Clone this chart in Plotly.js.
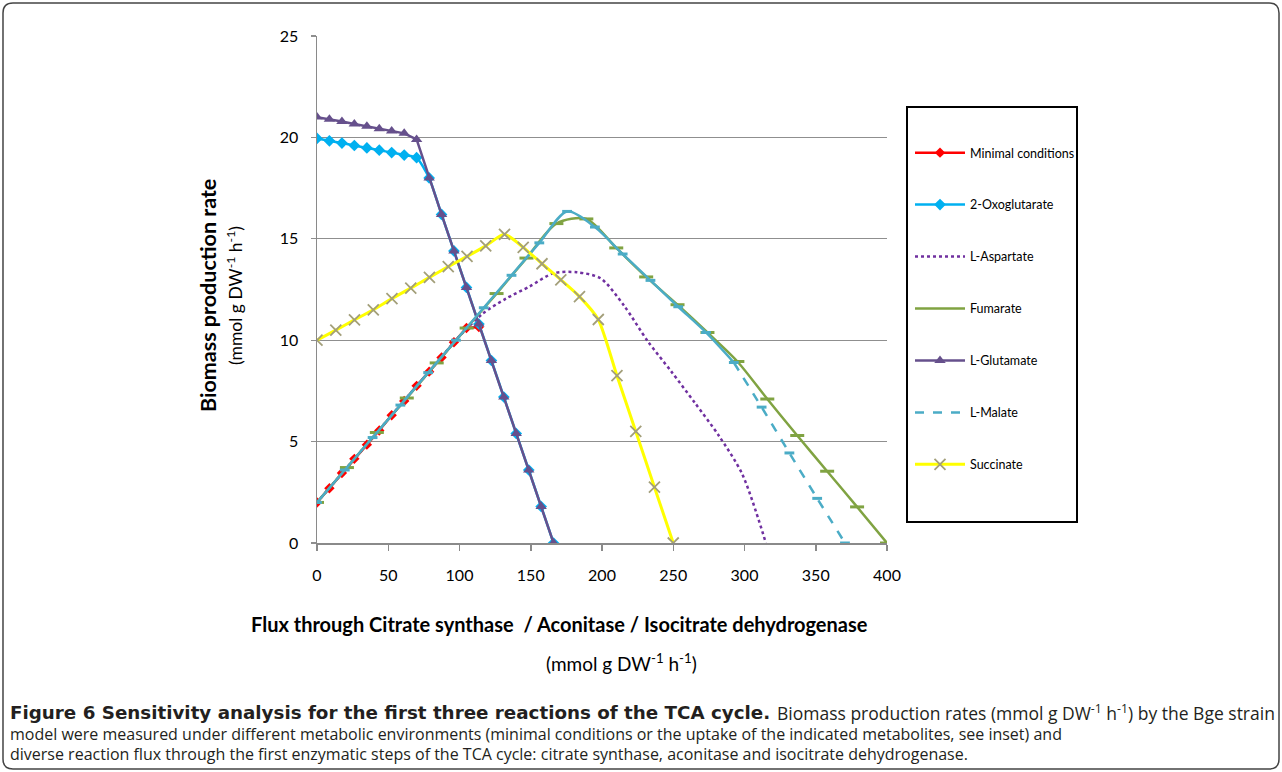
<!DOCTYPE html>
<html>
<head>
<meta charset="utf-8">
<script src="https://cdn.plot.ly/plotly-3.0.1.min.js"></script>
<style>
html,body{margin:0;padding:0;background:#fff;}
#chart{width:1282px;height:772px;}
</style>
</head>
<body>
<div id="chart"></div>
<script>
// ---- Data ----
const seriesNames = ["Minimal conditions","2-Oxoglutarate","L-Aspartate","Fumarate","L-Glutamate","L-Malate","Succinate"];

const minimalX = [0, 8.7, 17.5, 26.2, 35.0, 43.7, 52.4, 61.2, 69.9, 78.7, 87.4, 96.1, 104.9, 113.6];
const minimalY = [2.0, 2.7, 3.45, 4.15, 4.85, 5.55, 6.3, 7.0, 7.75, 8.45, 9.15, 9.9, 10.6, 10.65];

const oxoX = [0, 8.7, 17.5, 26.2, 35.0, 43.7, 52.4, 61.2, 69.9, 78.7, 87.4, 96.1, 104.9, 113.6, 122.4, 131.1, 139.8, 148.6, 157.3, 166.0];
const oxoY = [19.95, 19.83, 19.72, 19.6, 19.48, 19.37, 19.25, 19.13, 19.0, 18.0, 16.2, 14.4, 12.6, 10.8, 9.0, 7.2, 5.4, 3.6, 1.8, 0];

const aspX = [0, 16.6, 33.2, 49.7, 66.3, 82.9, 99.5, 116.1, 132.6, 149.2, 165.8, 182.4, 199.0, 215.5, 232.1, 248.7, 265.3, 281.9, 298.4, 315];
const aspY = [2.0, 3.36, 4.72, 6.08, 7.44, 8.8, 10.16, 11.3, 12.05, 12.65, 13.3, 13.35, 13.05, 11.7, 9.95, 8.45, 6.9, 5.3, 3.4, 0];

const fumX = [0, 21, 42, 63, 84, 105, 126, 147, 168, 189, 210, 231, 253, 274, 295, 316, 337, 358, 379, 400];
const fumY = [2.0, 3.72, 5.45, 7.15, 8.88, 10.6, 12.3, 14.05, 15.75, 15.98, 14.55, 13.12, 11.75, 10.38, 8.95, 7.1, 5.3, 3.54, 1.78, 0];

const gluX = [0, 8.7, 17.5, 26.2, 35.0, 43.7, 52.4, 61.2, 69.9, 78.7, 87.4, 96.1, 104.9, 113.6, 122.4, 131.1, 139.8, 148.6, 157.3, 166.0];
const gluY = [21.0, 20.9, 20.78, 20.66, 20.55, 20.43, 20.32, 20.2, 19.9, 18.0, 16.2, 14.4, 12.6, 10.8, 9.0, 7.2, 5.4, 3.6, 1.8, 0];

const malX = [0, 19.5, 39, 58.5, 78, 97.5, 117, 136.5, 156, 175.5, 195, 214.5, 234, 253.5, 273, 292.5, 312, 331.5, 351, 370.5];
const malY = [2.0, 3.6, 5.2, 6.8, 8.4, 10.0, 11.6, 13.2, 14.8, 16.35, 15.58, 14.25, 12.95, 11.65, 10.38, 8.9, 6.7, 4.44, 2.2, 0];

const sucX = [0, 13.2, 26.3, 39.5, 52.6, 65.8, 78.9, 92.1, 105.3, 118.4, 131.6, 144.7, 157.9, 171.1, 184.2, 197.4, 210.5, 223.7, 236.8, 250];
const sucY = [10.0, 10.5, 11.0, 11.5, 12.05, 12.57, 13.1, 13.63, 14.13, 14.65, 15.22, 14.58, 13.77, 12.98, 12.15, 11.02, 8.25, 5.5, 2.75, 0];

const xTickVals = [0, 50, 100, 150, 200, 250, 300, 350, 400];
const yTickVals = [0, 5, 10, 15, 20, 25];

const yTitle = "Biomass production rate";
const unitText = "(mmol g DW<sup>-1</sup> h<sup>-1</sup>)";
const xTitle = "Flux through Citrate synthase&nbsp; / Aconitase / Isocitrate dehydrogenase";
const captionBold = "Figure 6 Sensitivity analysis for the first three reactions of the TCA cycle.";
const captionLine1 = "Biomass production rates (mmol g DW<sup>-1</sup> h<sup>-1</sup>) by the Bge strain";
const captionLine2 = "model were measured under different metabolic environments (minimal conditions or the uptake of the indicated metabolites, see inset) and";
const captionLine3 = "diverse reaction flux through the first enzymatic steps of the TCA cycle: citrate synthase, aconitase and isocitrate dehydrogenase.";

// ---- Layout geometry ----
const FW = 1282, FH = 772;
const ML = 317, MR = 395, MT = 36, MB = 229;
const PW = FW - ML - MR, PH = FH - MT - MB;
const px = x => (x - ML) / PW;
const py = y => (MT + PH - y) / PH;

const C = {
  red: "#ff0000", blue: "#00b0f0", asp: "#7030a0", fum: "#80a342",
  glu: "#66508c", mal: "#4bacc6", suc: "#ffff00", sucMk: "#a39f7a"
};

const splitIdx = 15; // malate leaves the fumarate line here

const traces = [
  {x: minimalX, y: minimalY, name: seriesNames[0], legendgroup: "g0", mode: "lines+markers",
   line: {color: C.red, width: 2.5}, marker: {symbol: "diamond", size: 8, color: C.red}},
  {x: oxoX, y: oxoY, name: seriesNames[1], legendgroup: "g1", mode: "lines+markers",
   line: {color: C.blue, width: 2.5, shape: "spline", smoothing: 0.6}, marker: {symbol: "diamond", size: 9, color: C.blue}},
  {x: aspX, y: aspY, name: seriesNames[2], legendgroup: "g2", mode: "lines",
   line: {color: C.asp, width: 2.5, dash: "dot", shape: "spline", smoothing: 0.8}},
  {x: fumX, y: fumY, name: seriesNames[3], legendgroup: "g3", mode: "lines",
   line: {color: C.fum, width: 2.5, shape: "spline", smoothing: 0.8}},
  {x: fumX, y: fumY, name: seriesNames[3], legendgroup: "g3", showlegend: false, mode: "markers",
   marker: {symbol: "line-ew", size: 10, line: {color: C.fum, width: 3}}},
  {x: gluX, y: gluY, name: seriesNames[4], legendgroup: "g4", mode: "lines+markers",
   line: {color: C.glu, width: 2.5}, marker: {symbol: "triangle-up", size: 10, color: C.glu}},
  {x: malX.slice(0, splitIdx + 1), y: malY.slice(0, splitIdx + 1), name: seriesNames[5], legendgroup: "g5", showlegend: false, mode: "lines",
   line: {color: C.mal, width: 2.5, shape: "spline", smoothing: 0.8}},
  {x: malX.slice(splitIdx), y: malY.slice(splitIdx), name: seriesNames[5], legendgroup: "g5", mode: "lines",
   line: {color: C.mal, width: 2.5, dash: "dash", shape: "spline", smoothing: 0.8}},
  {x: malX, y: malY, name: seriesNames[5], legendgroup: "g5", showlegend: false, mode: "markers",
   marker: {symbol: "line-ew", size: 7, line: {color: C.mal, width: 3}}},
  {x: sucX, y: sucY, name: seriesNames[6], legendgroup: "g6", mode: "lines+markers",
   line: {color: C.suc, width: 3, shape: "spline", smoothing: 0.6},
   marker: {symbol: "x-thin-open", size: 11, line: {color: C.sucMk, width: 1.8}, color: C.sucMk}}
];

function roundRectPath(x0, y0, x1, y1, r) {
  const X = v => px(v).toFixed(5), Y = v => py(v).toFixed(5);
  return "M" + X(x0 + r) + "," + Y(y0) +
    " L" + X(x1 - r) + "," + Y(y0) + " Q" + X(x1) + "," + Y(y0) + " " + X(x1) + "," + Y(y0 + r) +
    " L" + X(x1) + "," + Y(y1 - r) + " Q" + X(x1) + "," + Y(y1) + " " + X(x1 - r) + "," + Y(y1) +
    " L" + X(x0 + r) + "," + Y(y1) + " Q" + X(x0) + "," + Y(y1) + " " + X(x0) + "," + Y(y1 - r) +
    " L" + X(x0) + "," + Y(y0 + r) + " Q" + X(x0) + "," + Y(y0) + " " + X(x0 + r) + "," + Y(y0) + " Z";
}

const capFont = {family: "Open Sans", size: 16, color: "#231f20"};
const annotations = [
  {xref: "paper", yref: "paper", x: px(208), y: py(296), text: "<b>" + yTitle + "</b>", textangle: -90,
   showarrow: false, font: {family: "Lato", size: 21.5, color: "#000"}, xanchor: "center", yanchor: "middle"},
  {xref: "paper", yref: "paper", x: px(234), y: py(296), text: unitText, textangle: -90,
   showarrow: false, font: {family: "Lato", size: 17.5, color: "#000"}, xanchor: "center", yanchor: "middle"},
  {xref: "paper", yref: "paper", x: px(559), y: py(624), text: "<b>" + xTitle + "</b>",
   showarrow: false, font: {family: "Lato", size: 20, color: "#000"}, xanchor: "center", yanchor: "middle"},
  {xref: "paper", yref: "paper", x: px(621), y: py(662), text: unitText,
   showarrow: false, font: {family: "Lato", size: 19, color: "#000"}, xanchor: "center", yanchor: "middle"},
  {xref: "paper", yref: "paper", x: px(8), y: py(712), text: "<b>" + captionBold + "</b>", showarrow: false,
   font: {family: "DejaVu Sans", size: 18.3, color: "#231f20"}, xanchor: "left", yanchor: "middle"},
  {xref: "paper", yref: "paper", x: px(1277), y: py(712), text: captionLine1, showarrow: false,
   font: {family: "Open Sans", size: 17.5, color: "#231f20"}, xanchor: "right", yanchor: "middle"},
  {xref: "paper", yref: "paper", x: px(8), y: py(734), text: captionLine2, showarrow: false,
   font: capFont, xanchor: "left", yanchor: "middle"},
  {xref: "paper", yref: "paper", x: px(8), y: py(754), text: captionLine3, showarrow: false,
   font: capFont, xanchor: "left", yanchor: "middle"}
];

const layout = {
  width: FW, height: FH,
  margin: {l: ML, r: MR, t: MT, b: MB, pad: 0},
  paper_bgcolor: "#fff", plot_bgcolor: "#fff",
  showlegend: true,
  font: {family: "Lato", color: "#000"},
  xaxis: {
    range: [0, 400], tickvals: xTickVals, showgrid: false, zeroline: false,
    showline: true, linecolor: "#8a8a8a", linewidth: 1.5,
    ticks: "outside", ticklen: 6, tickcolor: "#8a8a8a", tickwidth: 1.5,
    tickfont: {family: "Lato", size: 16, color: "#000"}, ticklabelstandoff: 11, fixedrange: true
  },
  yaxis: {
    range: [0, 25], tickvals: yTickVals, showgrid: true, gridcolor: "#8f8f8f", gridwidth: 1.3,
    zeroline: false, showline: true, linecolor: "#8a8a8a", linewidth: 1.5,
    ticks: "outside", ticklen: 5, tickcolor: "#8f8f8f", tickwidth: 1.3,
    tickfont: {family: "Lato", size: 16, color: "#000"}, ticklabelstandoff: 9, fixedrange: true
  },
  legend: {
    x: px(910), xanchor: "left", y: py(138), yanchor: "top",
    bgcolor: "rgba(0,0,0,0)", borderwidth: 0,
    font: {family: "Lato", size: 12.5, color: "#000"},
    traceorder: "grouped", tracegroupgap: 32.7, itemwidth: 50
  },
  shapes: [
    {type: "rect", xref: "paper", yref: "paper", x0: px(907), x1: px(1077), y0: py(107), y1: py(522),
     line: {color: "#000", width: 2}, fillcolor: "rgba(0,0,0,0)"},
    {type: "path", xref: "paper", yref: "paper", path: roundRectPath(3, 3, 1279, 769, 10),
     line: {color: "#444", width: 1.5}, fillcolor: "rgba(0,0,0,0)"}
  ],
  annotations: annotations
};

Plotly.newPlot("chart", traces, layout, {displayModeBar: false, staticPlot: true});
</script>
</body>
</html>
